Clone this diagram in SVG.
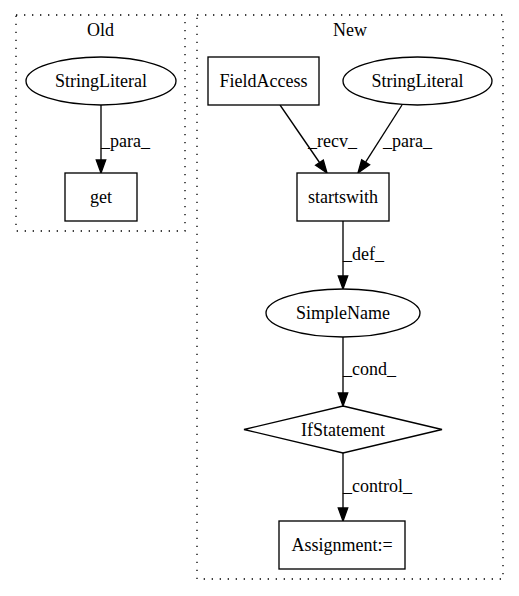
<svg xmlns="http://www.w3.org/2000/svg" width="519" height="596" viewBox="0 0 519 596">
<defs>
<style>
text{font-family:'Liberation Serif','Times New Roman',Times,serif;font-size:18px;fill:#000}
.c{text-anchor:middle}
.cl{fill:none;stroke:#000;stroke-width:1.33;stroke-dasharray:1.33,6.67}
.n{fill:#fff;stroke:#000;stroke-width:1.33}
.e{fill:none;stroke:#000;stroke-width:1.33}
.ah{fill:#000;stroke:#000;stroke-width:1.33}
</style>
</defs>
<rect width="519" height="596" fill="#fff"/>
<g id="cluster_old">
<rect class="cl" x="16" y="15" width="169" height="216"/>
<text class="c" x="100.5" y="36">Old</text>
</g>
<g id="cluster_new">
<rect class="cl" x="197" y="15" width="306" height="564"/>
<text class="c" x="350" y="36">New</text>
</g>
<g id="connectors">
<path class="e" d="M101,105 L101,160"/>
<polygon class="ah" points="96.3,160 101,173 105.7,160"/>
<text x="101" y="147">_para_</text>
<path class="e" d="M280,105 L319.5,162.5"/>
<polygon class="ah" points="315.6,165.2 327,173 323.3,160"/>
<text x="308" y="147">_recv_</text>
<path class="e" d="M402,105 L365.6,162.2"/>
<polygon class="ah" points="361.7,159.7 358,173 369.6,164.8"/>
<text x="383" y="147">_para_</text>
<path class="e" d="M343,221 L343,276"/>
<polygon class="ah" points="338.3,276 343,289 347.7,276"/>
<text x="343" y="260">_def_</text>
<path class="e" d="M343,337 L343,393"/>
<polygon class="ah" points="338.3,393 343,406 347.7,393"/>
<text x="343" y="375">_cond_</text>
<path class="e" d="M343,453 L343,508"/>
<polygon class="ah" points="338.3,508 343,521 347.7,508"/>
<text x="343" y="492">_control_</text>
</g>
<g id="old_stringliteral">
<ellipse class="n" cx="101" cy="81" rx="75" ry="24"/>
<text class="c" x="101" y="87">StringLiteral</text>
</g>
<g id="old_get">
<rect class="n" x="65" y="173" width="72" height="48"/>
<text class="c" x="101" y="203">get</text>
</g>
<g id="new_fieldaccess">
<rect class="n" x="208" y="57" width="111" height="48"/>
<text class="c" x="263.5" y="87">FieldAccess</text>
</g>
<g id="new_stringliteral">
<ellipse class="n" cx="417.5" cy="81" rx="74.5" ry="24"/>
<text class="c" x="417.5" y="87">StringLiteral</text>
</g>
<g id="new_startswith">
<rect class="n" x="297" y="173" width="92" height="48"/>
<text class="c" x="343" y="203">startswith</text>
</g>
<g id="new_simplename">
<ellipse class="n" cx="343" cy="313" rx="77" ry="24"/>
<text class="c" x="343" y="319">SimpleName</text>
</g>
<g id="new_ifstatement">
<polygon class="n" points="343,406 442,429.5 343,453 244,429.5"/>
<text class="c" x="343" y="435.5">IfStatement</text>
</g>
<g id="new_assignment">
<rect class="n" x="279" y="521" width="126" height="48"/>
<text class="c" x="342" y="551">Assignment:=</text>
</g>
</svg>
